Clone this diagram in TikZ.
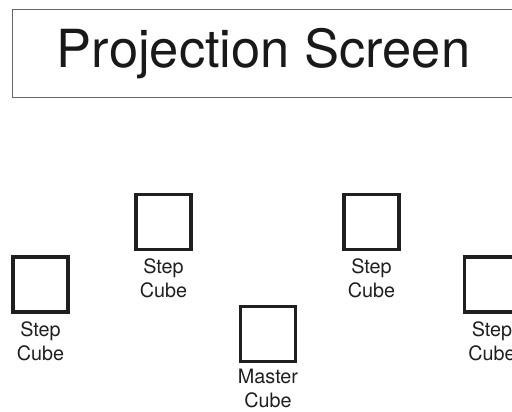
\documentclass[tikz,border=0pt]{standalone}
\usepackage{fontspec}
\setmainfont{TeX Gyre Heros}
\begin{document}
\begin{tikzpicture}[x=1pt,y=-1pt,
  cube/.style={draw=black!88, line width=3.5pt, minimum size=55pt, inner sep=0pt},
  lbl/.style={anchor=north, align=center, inner sep=0pt, font=\fontsize{19.8}{24}\selectfont, text=black!88},
  screen/.style={draw=black!60, line width=0.8pt}]
\useasboundingbox (0,0) rectangle (512,412);
\clip (0,0) rectangle (512,412);
\draw[screen] (12.5,9.5) rectangle (540,97);
\node[font=\fontsize{52.5}{60}\selectfont, text=black!90] (title) at (263.5,54) {Projection Screen};
\node[cube] (c1) at (40.5,284.5) {};
\node[cube] (c2) at (163.5,222) {};
\node[cube] (cm) at (268,334) {};
\node[cube] (c4) at (371.5,222) {};
\node[cube] (c5) at (492,284.5) {};
\node[lbl] (t1) at ([yshift=-8pt]c1.south) {Step\\Cube};
\node[lbl] (t2) at ([yshift=-7pt]c2.south) {Step\\Cube};
\node[lbl] (tm) at ([yshift=-6pt]cm.south) {Master\\Cube};
\node[lbl] (t4) at ([yshift=-7pt]c4.south) {Step\\Cube};
\node[lbl] (t5) at ([yshift=-8pt]c5.south) {Step\\Cube};
\end{tikzpicture}
\end{document}
